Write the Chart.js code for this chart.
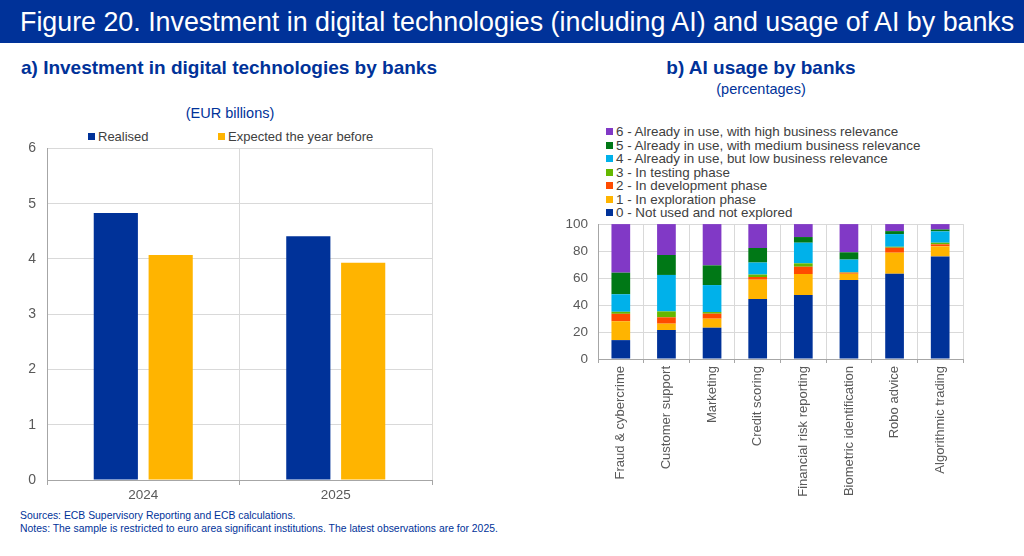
<!DOCTYPE html>
<html>
<head>
<meta charset="utf-8">
<script src="https://cdn.jsdelivr.net/npm/chart.js@4.4.1/dist/chart.umd.min.js"></script>
<style>
body{margin:0;width:1024px;height:556px;background:#fff;position:relative;overflow:hidden;font-family:"Liberation Sans",Arial,sans-serif;}
.abs{position:absolute;white-space:nowrap;}
#band{left:0;top:0;width:1024px;height:43px;background:#003299;}
#title{left:20px;top:6px;color:#fff;font-size:28px;line-height:32px;transform-origin:0 0;}
.head{color:#003299;font-weight:bold;font-size:19px;line-height:22px;}
.sub{color:#003299;font-size:14.5px;line-height:18px;}
.leg{color:#404040;font-size:13px;line-height:14px;}
.leg i{display:inline-block;width:7px;height:7px;margin-right:3px;vertical-align:1px;}
#legB div{font-size:13.4px;line-height:13.5px;}
.foot{left:20px;color:#003299;font-size:10.4px;line-height:13px;}
canvas{position:absolute;}
</style>
</head>
<body>
<div id="band" class="abs"></div>
<div id="title" class="abs">Figure 20. Investment in digital technologies (including AI) and usage of AI by banks</div>
<div class="abs head" style="left:21px;top:57px;">a) Investment in digital technologies by banks</div>
<div class="abs sub" style="left:0;width:460px;text-align:center;top:104px;">(EUR billions)</div>
<div id="legA" class="abs leg" style="top:130px;"></div>
<div class="abs head" style="left:561px;width:400px;text-align:center;top:57px;">b) AI usage by banks</div>
<div class="abs sub" style="left:561px;width:400px;text-align:center;top:80px;">(percentages)</div>
<div id="legB" class="abs leg" style="left:606px;top:125px;"></div>
<canvas id="chartA" width="450" height="379" style="left:0;top:129px;"></canvas>
<canvas id="chartB" width="420" height="308" style="left:560px;top:206px;"></canvas>
<div class="abs foot" style="top:509px;">Sources: ECB Supervisory Reporting and ECB calculations.</div>
<div class="abs foot" style="top:522px;">Notes: The sample is restricted to euro area significant institutions. The latest observations are for 2025.</div>

<script>
/* panel a data */
const years    = ['2024', '2025'];
const realised = [4.83, 4.41];
const expected = [4.07, 3.93];
const seriesA  = ['Realised', 'Expected the year before'];

/* panel b data */
const useCases = ['Fraud & cybercrime', 'Customer support', 'Marketing', 'Credit scoring',
                  'Financial risk reporting', 'Biometric identification', 'Robo advice', 'Algorithmic trading'];
const stages = ['0 - Not used and not explored', '1 - In exploration phase', '2 - In development phase',
                '3 - In testing phase', '4 - Already in use, but low business relevance',
                '5 - Already in use, with medium business relevance', '6 - Already in use, with high business relevance'];
const notUsed    = [14, 21.5, 23.2, 44.4, 47.4, 58.5, 63.2, 76];
const exploring  = [14, 4.7, 6.7, 14.4, 15.6, 4.7, 15.6, 7.5];
const developing = [5.5, 4.7, 3.7, 2, 5.4, 0.8, 3.7, 1.5];
const testing    = [1.5, 4.4, 1.2, 1.8, 2.5, 0.3, 0.7, 1.2];
const lowRel     = [13, 27, 20, 8.9, 15.3, 9.4, 9.4, 8.4];
const medRel     = [16, 14.8, 14.6, 10.8, 4.2, 5.4, 2.2, 1.4];
const highRel    = [36, 22.9, 30.6, 17.7, 9.6, 20.9, 5.2, 4];

const colA = ['#003299', '#FFB400'];
const colB = ['#003299', '#FFB400', '#FF4B00', '#65B800', '#00B1EA', '#007816', '#8139C6'];

const FONT  = '"Liberation Sans", Arial, sans-serif';
const GRID  = '#d9d9d9';
const AXIS  = '#a6a6a6';
const TICKC = '#595959';

/* fit header title to width */
let title = document.querySelector('#title');
title.style.transform = `scaleX(${994 / title.offsetWidth})`;

/* legends */
let legA = document.querySelector('#legA');
legA.innerHTML = `<span style="position:absolute;left:88px"><i style="background:${colA[0]}"></i>${seriesA[0]}</span>`
               + `<span style="position:absolute;left:218px"><i style="background:${colA[1]}"></i>${seriesA[1]}</span>`;

let legB = document.querySelector('#legB');
for(let i = stages.length - 1; i >= 0; i--){
    legB.innerHTML += `<div><i style="background:${colB[i]}"></i>${stages[i]}</div>`;
};

/* chart a */
new Chart(document.querySelector('#chartA').getContext('2d'), {
    type: 'bar',
    data: {
        labels: years,
        datasets: [
            {label: seriesA[0], data: realised, backgroundColor: colA[0]},
            {label: seriesA[1], data: expected, backgroundColor: colA[1]}
        ]
    },
    options: {
        responsive: false,
        animation: false,
        layout: {padding: {top: 1, right: 18, left: 0, bottom: 0}},
        plugins: {legend: {display: false}, tooltip: {enabled: false}},
        datasets: {bar: {categoryPercentage: 0.57, barPercentage: 0.805}},
        scales: {
            x: {
                grid: {color: GRID, tickColor: AXIS, tickLength: 5},
                border: {color: AXIS},
                ticks: {color: TICKC, font: {family: FONT, size: 13.5}, padding: 2},
                afterFit: (s)=>{ s.height = 28; }
            },
            y: {
                min: 0, max: 6,
                grid: {color: GRID, drawTicks: false},
                border: {color: AXIS},
                ticks: {stepSize: 1, color: TICKC, font: {family: FONT, size: 14}, padding: 11},
                afterFit: (s)=>{ s.width = 47; }
            }
        }
    }
});

/* chart b */
let setsB = [notUsed, exploring, developing, testing, lowRel, medRel, highRel].map((d, i)=>({
    label: stages[i], data: d, backgroundColor: colB[i]
}));
new Chart(document.querySelector('#chartB').getContext('2d'), {
    type: 'bar',
    data: {labels: useCases, datasets: setsB},
    options: {
        responsive: false,
        animation: false,
        layout: {padding: {top: 2, right: 17, left: 0, bottom: 0}},
        plugins: {legend: {display: false}, tooltip: {enabled: false}},
        datasets: {bar: {categoryPercentage: 1, barPercentage: 0.41}},
        scales: {
            x: {
                stacked: true,
                grid: {color: GRID, tickColor: AXIS, tickLength: 4},
                border: {color: AXIS},
                ticks: {color: TICKC, font: {family: FONT, size: 13}, padding: 3,
                        minRotation: 90, maxRotation: 90, autoSkip: false},
                afterFit: (s)=>{ s.height = 155; }
            },
            y: {
                stacked: true, min: 0, max: 100,
                grid: {color: GRID, drawTicks: false},
                border: {color: AXIS},
                ticks: {stepSize: 20, color: TICKC, font: {family: FONT, size: 13.5}, padding: 10},
                afterFit: (s)=>{ s.width = 38; }
            }
        }
    }
});
</script>
</body>
</html>
